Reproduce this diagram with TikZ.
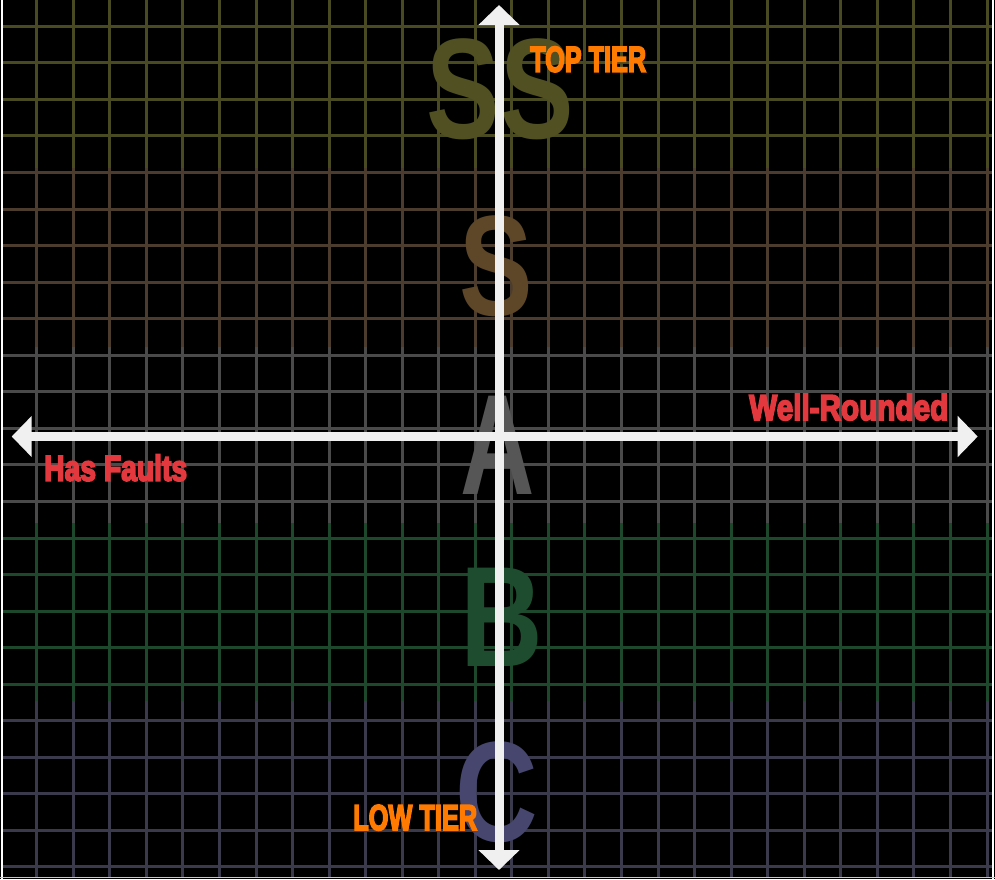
\documentclass[tikz,border=0pt]{standalone}
\usepackage{fontspec}
\setmainfont{Liberation Sans}
\newfontfamily\labfont{Liberation Sans}[BoldFeatures={FakeBold=5}]
\usetikzlibrary{arrows.meta}
\definecolor{bandolive}{RGB}{74,74,34}
\definecolor{bandbrown}{RGB}{76,60,45}
\definecolor{bandgray}{RGB}{74,74,74}
\definecolor{bandgreen}{RGB}{30,72,44}
\definecolor{bandpurple}{RGB}{58,58,76}
\definecolor{ltrss}{RGB}{80,80,34}
\definecolor{ltrs}{RGB}{94,70,40}
\definecolor{ltra}{RGB}{86,86,86}
\definecolor{ltrb}{RGB}{30,76,46}
\definecolor{ltrc}{RGB}{70,70,110}
\definecolor{laborange}{RGB}{255,122,0}
\definecolor{labred}{RGB}{226,56,62}
\definecolor{axiswhite}{RGB}{240,240,240}
\definecolor{framegray}{RGB}{200,200,200}
\tikzset{
  gridline/.style={line width=3pt},
  bigletter/.style={anchor=base, inner sep=0pt, font=\bfseries\fontsize{143}{150}\selectfont},
  labeltext/.style={anchor=base west, inner sep=0pt, font=\labfont\bfseries\fontsize{36}{40}\selectfont},
  axisarrow/.style={line width=9pt, draw=axiswhite,
    {Triangle[length=20pt,width=40pt]}-{Triangle[length=20pt,width=40pt]}}
}
\begin{document}
\begin{tikzpicture}[x=1pt,y=-1pt]
\fill[black] (0,0) rectangle (995,879);
\useasboundingbox (0,0) rectangle (995,879);
% grid bands
\foreach \ya/\yb/\c in {0/168/bandolive,168/347/bandbrown,347/523/bandgray,523/701/bandgreen,701/877/bandpurple}{
  \begin{scope}
    \clip (3,\ya) rectangle (992,\yb);
    \foreach \k in {1,...,27}
      \draw[gridline,draw=\c] ({0.15+36.55*\k},\ya) -- ({0.15+36.55*\k},\yb);
    \foreach \j in {0,...,23}
      \draw[gridline,draw=\c] (0,{26.3+36.55*\j}) -- (995,{26.3+36.55*\j});
  \end{scope}
}
% frame
\draw[white,line width=1.5pt] (2,0) -- (2,879);
\draw[white,line width=1.5pt] (993,0) -- (993,879);
\draw[framegray,line width=1.2pt] (0,877.5) -- (995,877.5);
% big tier letters
\node[bigletter,text=ltrss] (ss) at (500,138) {\scalebox{0.77}[1]{SS}};
\node[bigletter,text=ltrs] (s) at (496,315) {\scalebox{0.77}[1]{S}};
\node[bigletter,text=ltra] (a) at (498,494) {\scalebox{0.72}[1]{A}};
\node[bigletter,text=ltrb] (b) at (502,666) {\scalebox{0.80}[1]{B}};
\node[bigletter,text=ltrc] (c) at (497,841) {\scalebox{0.80}[1]{C}};
% axes
\coordinate (vtop) at (499,5);
\coordinate (vbot) at (499,870);
\coordinate (hleft) at (11.7,436.5);
\coordinate (hright) at (977.7,436.5);
\draw[axisarrow] (hleft) -- (hright);
\draw[axisarrow] (vtop) -- (vbot);
% labels
\node[labeltext,text=laborange] (toptier) at (530,71.7) {\resizebox{116pt}{\height}{TOP TIER}};
\node[labeltext,text=labred] (wellr) at (749,420) {\resizebox{199pt}{\height}{Well-Rounded}};
\node[labeltext,text=labred] (faults) at (44,480.7) {\resizebox{143pt}{\height}{Has Faults}};
\node[labeltext,text=laborange] (lowtier) at (353,830) {\resizebox{124pt}{\height}{LOW TIER}};
\end{tikzpicture}
\end{document}
